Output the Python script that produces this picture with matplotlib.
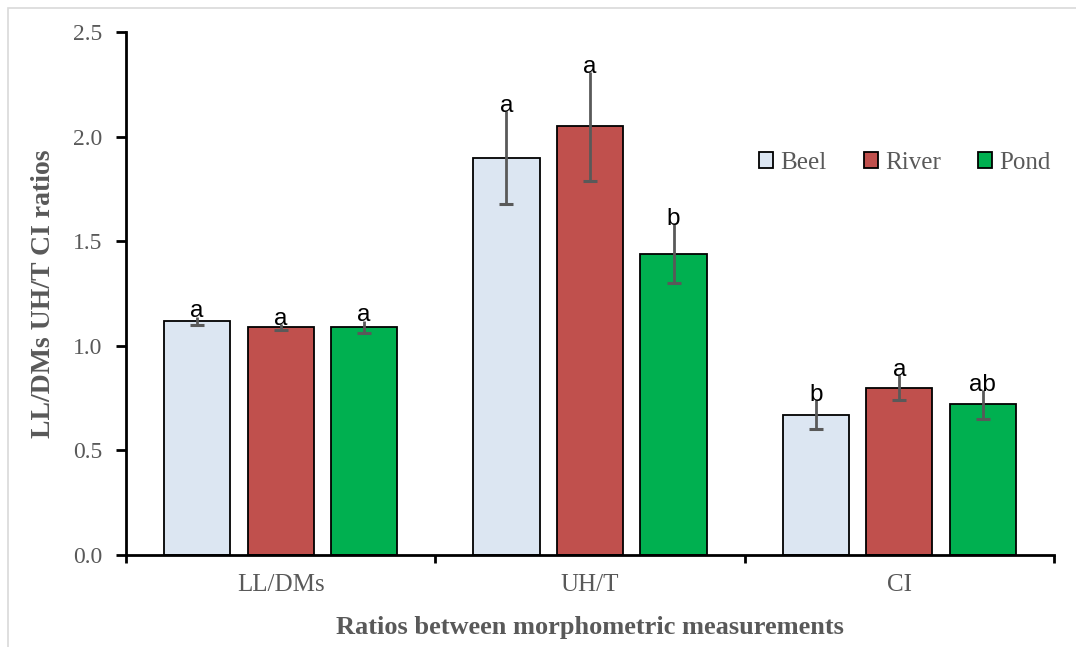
import matplotlib
matplotlib.use("Agg")
import matplotlib.pyplot as plt
import numpy as np
from matplotlib.patches import Rectangle

categories = ["LL/DMs", "UH/T", "CI"]
series = ["Beel", "River", "Pond"]
beel = [1.12, 1.90, 0.67]
river = [1.09, 2.05, 0.80]
pond = [1.09, 1.44, 0.72]
beel_err = [0.02, 0.22, 0.07]
river_err = [0.015, 0.26, 0.06]
pond_err = [0.03, 0.14, 0.07]
beel_lbl = ["a", "a", "b"]
river_lbl = ["a", "a", "a"]
pond_lbl = ["a", "b", "ab"]

colors = ["#DCE6F2", "#C0504D", "#00B050"]
grey = "#595959"
serif = ["Liberation Serif", "DejaVu Serif"]

fig = plt.figure(figsize=(10.76, 6.47), dpi=100)
ax = fig.add_axes([126/1076, 1-555/647, (1054-126)/1076, (555-32)/647])

fig.patches.append(Rectangle((8/1076, -0.1), 1.2, 1-8/647+0.1, transform=fig.transFigure,
                             fill=False, edgecolor="#D9D9D9", linewidth=1.2))

x = np.arange(len(categories))
w = 0.214
step = 0.27
vals = [beel, river, pond]
errs = [beel_err, river_err, pond_err]
lbls = [beel_lbl, river_lbl, pond_lbl]
for i, (v, e, l) in enumerate(zip(vals, errs, lbls)):
    pos = x + (i - 1) * step
    v = np.array(v)
    e = np.array(e)
    ax.bar(pos, v, width=w, color=colors[i], edgecolor="black", linewidth=1.3,
           label=series[i], zorder=2)
    ax.vlines(pos, v - e, v + e, colors=grey, linewidth=2, zorder=3)
    ax.plot(pos, v - e, linestyle="none", marker="_", markersize=10, markeredgewidth=2.2,
            color=grey, zorder=3)
    for p, vv, ee, t in zip(pos, v, e, l):
        ax.text(p, vv + ee + 0.025, t, ha="center", va="center", fontsize=17.5,
                family=["Liberation Sans", "DejaVu Sans"], color="black", zorder=4)

ax.set_xlim(-0.5, 2.5)
ax.set_ylim(0, 2.5)
ax.set_yticks(np.arange(0, 2.51, 0.5))
ax.set_yticklabels([f"{t:.1f}" for t in np.arange(0, 2.51, 0.5)])
ax.set_xticks([-0.5, 0.5, 1.5, 2.5], minor=False)
ax.set_xticklabels([])
ax.set_xticks(x, minor=True)
ax.set_xticklabels(categories, minor=True)
ax.tick_params(axis="x", which="minor", length=0, pad=14)
ax.tick_params(axis="x", which="major", length=6, width=2, direction="out")
ax.tick_params(axis="y", length=7, width=2, direction="out", pad=10)
for lab in ax.get_xticklabels(minor=True):
    lab.set_family(serif)
    lab.set_fontsize(18)
    lab.set_color(grey)
for lab in ax.get_yticklabels():
    lab.set_family(serif)
    lab.set_fontsize(17)
    lab.set_color(grey)

for s in ["top", "right"]:
    ax.spines[s].set_visible(False)
ax.spines["left"].set_linewidth(2)
ax.spines["bottom"].set_linewidth(2)

ax.set_ylabel("LL/DMs UH/T CI ratios", family=serif, fontsize=20, fontweight="bold",
              color=grey, labelpad=12)
ax.set_xlabel("Ratios between morphometric measurements", family=serif, fontsize=19,
              fontweight="bold", color=grey, labelpad=14)

leg = ax.legend(loc="center left", bbox_to_anchor=((759-126)/928, 0.75), ncol=3, frameon=False,
                handlelength=0.56, handleheight=0.56, handletextpad=0.28, columnspacing=1.5,
                borderpad=0, borderaxespad=0,
                prop={"family": serif, "size": 18})
for t in leg.get_texts():
    t.set_color(grey)

fig.savefig("out.png", dpi=100)
